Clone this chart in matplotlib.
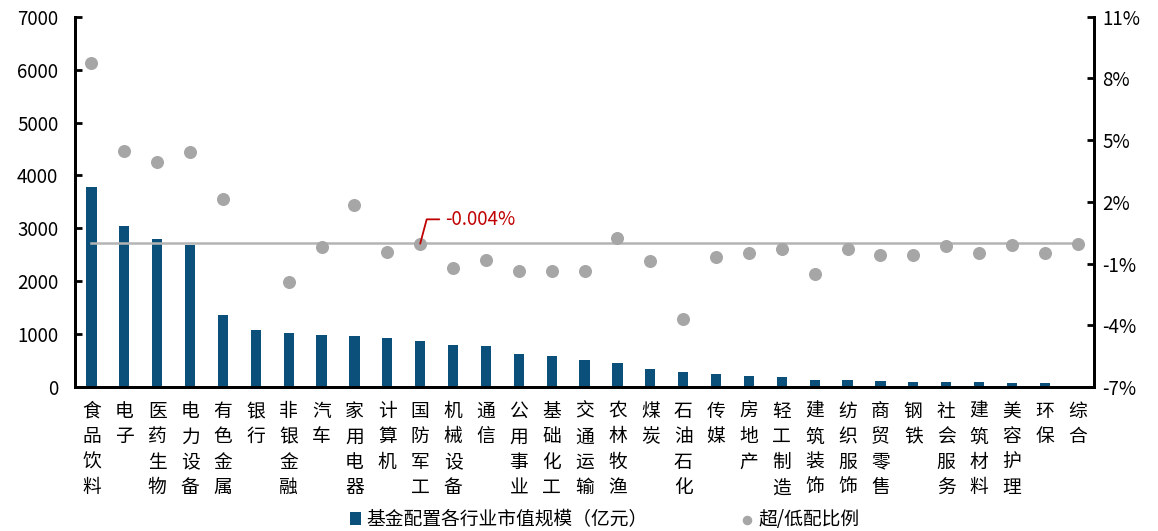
import numpy as np
import matplotlib
matplotlib.use('Agg')
import matplotlib.pyplot as plt

plt.rcParams['font.family'] = ['Noto Sans CJK SC', 'DejaVu Sans']

# industries, ordered by fund holdings
industries = ['食品饮料', '电子', '医药生物', '电力设备', '有色金属', '银行', '非银金融',
              '汽车', '家用电器', '计算机', '国防军工', '机械设备', '通信', '公用事业',
              '基础化工', '交通运输', '农林牧渔', '煤炭', '石油石化', '传媒', '房地产',
              '轻工制造', '建筑装饰', '纺织服饰', '商贸零售', '钢铁', '社会服务',
              '建筑材料', '美容护理', '环保', '综合']

# fund market value by industry (100m yuan)
holdings = [3780, 3040, 2806, 2686, 1362, 1078, 1015, 984, 959, 927, 870, 801, 782, 624,
            580, 505, 448, 347, 284, 252, 208, 195, 139, 126, 113, 101, 88, 85, 76, 70, 3]

# over/under weight (%), bank dot not shown in the picture
overweight = [8.75, 4.45, 3.93, 4.43, 2.13, np.nan, -1.89, -0.20, 1.87, -0.42, -0.03,
              -1.20, -0.82, -1.36, -1.36, -1.36, 0.25, -0.89, -3.68, -0.66, -0.47,
              -0.27, -1.50, -0.27, -0.58, -0.58, -0.16, -0.51, -0.09, -0.50, -0.06]

ref_value = -0.004
ref_label = '-0.004%'
ref_idx = 10  # 国防军工

bar_color = '#0B507A'
dot_color = '#A6A6A6'

x = np.arange(len(industries))

fig = plt.figure(figsize=(11.58, 5.31), dpi=100)
ax = fig.add_axes([0.0648, 0.2712, 0.88, 0.6973])
ax2 = ax.twinx()

bars = ax.bar(x, holdings, width=0.31, color=bar_color, zorder=2,
              label='基金配置各行业市值规模（亿元）')
ax2.plot(x, [ref_value] * len(x), color='#B4B4B4', lw=1.8, zorder=1)
dots = ax2.scatter(x, overweight, s=70, color=dot_color, zorder=3, label='超/低配比例')

ax.set_xlim(-0.5, len(x) - 0.5)
ax.set_ylim(0, 7000)
ax.set_yticks(range(0, 7001, 1000))
ax2.set_ylim(-7, 11)
ax2.set_yticks(range(-7, 12, 3))
ax2.set_yticklabels([f'{v}%' for v in range(-7, 12, 3)])

ax.set_xticks(x)
ax.set_xticklabels(['\n'.join(n) for n in industries], fontsize=13.5, linespacing=1.28,
                   va='top')
ax.tick_params(axis='x', length=0, pad=10)
ax.tick_params(axis='y', direction='in', length=5, width=2, labelsize=13.5, pad=12)
ax2.tick_params(axis='y', direction='in', length=5, width=2, labelsize=13.5, pad=6)

for a in (ax, ax2):
    a.spines['top'].set_visible(False)
    for s in ('left', 'right', 'bottom'):
        a.spines[s].set_linewidth(2)

# callout for the average line
ax2.annotate(ref_label, xy=(ref_idx, overweight[ref_idx]), xytext=(ref_idx + 0.75, 1.15),
             color='#C00000', fontsize=13.5, va='center',
             arrowprops=dict(arrowstyle='-', color='#C00000', lw=1.3,
                             connectionstyle='angle,angleA=0,angleB=75,rad=0',
                             shrinkA=2, shrinkB=0))

fig.legend(handles=[bars, dots], loc='lower center', bbox_to_anchor=(0.522, -0.03),
           ncol=2, frameon=False, fontsize=13.5, handlelength=0.6, handletextpad=0.3,
           columnspacing=5.0, markerscale=0.7)

fig.savefig('out.png', dpi=100)
